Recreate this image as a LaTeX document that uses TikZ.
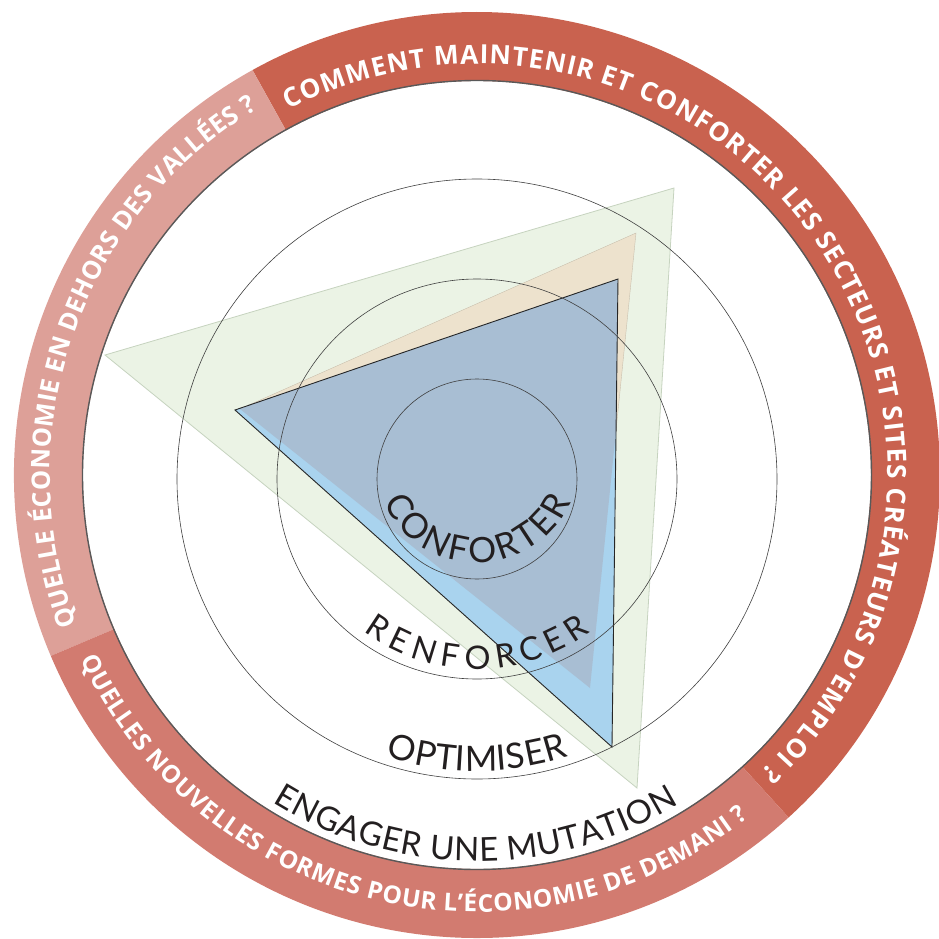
\documentclass[tikz,border=0pt]{standalone}
\usepackage{fontspec}
\newfontfamily\ringfont{Open Sans}
\newfontfamily\latofont{Lato}
\usetikzlibrary{decorations.text}
\definecolor{ringdark}{HTML}{C9624F}
\definecolor{ringlight}{HTML}{DDA098}
\definecolor{ringmid}{HTML}{D27B70}
\definecolor{trigreen}{HTML}{EBF3E5}
\definecolor{trigreenedge}{HTML}{C6D3BF}
\definecolor{tribeige}{HTML}{EDE2CD}
\definecolor{triblue}{HTML}{A9D3EE}
\definecolor{trigreyblue}{HTML}{A8BED3}
\definecolor{inktext}{HTML}{231F20}
\tikzset{
  guide/.style={draw=black!75, line width=0.6pt},
  ringtext/.style={decorate, decoration={text along path, text align=fit to path, text color=white, text={#1}}},
  innertext/.style={decorate, decoration={text along path, text align=fit to path, text color=inktext, text={#1}}}
}
\begin{document}
\begin{tikzpicture}[x=1pt,y=1pt]
\useasboundingbox (-477,-461) rectangle (462,477);
% ring segments
\begin{scope}[shift={(0,2)}]
\fill[ringdark] (-47.7:463) arc[start angle=-47.7, end angle=119, radius=463] -- (119:394) arc[start angle=119, end angle=-47.7, radius=394] -- cycle;
\fill[ringlight] (119:463) arc[start angle=119, end angle=203, radius=463] -- (203:394) arc[start angle=203, end angle=119, radius=394] -- cycle;
\fill[ringmid] (203:463) arc[start angle=203, end angle=312.3, radius=463] -- (312.3:394) arc[start angle=312.3, end angle=203, radius=394] -- cycle;
\draw[black!65, line width=1.4pt] (0,0) circle[radius=394.5];
\end{scope}
% triangles
\filldraw[fill=trigreen, draw=trigreenedge, line width=0.8pt] (-372,122) -- (197,289) -- (160,-311) -- cycle;
\filldraw[fill=tribeige, draw=tribeige!85!black, line width=0.4pt] (-237,68) -- (159,244) -- (113,-211) -- cycle;
\fill[triblue] (-242,67) -- (141,198) -- (135,-270) -- cycle;
\begin{scope}
\clip (-242,67) -- (141,198) -- (135,-270) -- cycle;
\fill[trigreyblue] (-237,68) -- (159,244) -- (113,-211) -- cycle;
\end{scope}
\draw[black!85, line width=0.9pt, line join=miter] (-242,67) -- (141,198) -- (135,-270) -- cycle;
% guide circles
\draw[guide] (0,-2) circle[radius=100];
\draw[guide] (0,-2) circle[radius=200];
\draw[guide] (0,-2) circle[radius=300];
% ring texts
\path[ringtext={|\ringfont\bfseries\fontsize{26.3}{26.3}\selectfont|COMMENT MAINTENIR ET CONFORTER LES SECTEURS ET SITES CRÉATEURS D’EMPLOI ?}]
  (0,2) ++(117.3:411) arc[start angle=117.3, end angle=-46.3, radius=411];
\path[ringtext={|\ringfont\bfseries\fontsize{25.5}{25.5}\selectfont|QUELLE ÉCONOMIE EN DEHORS DES VALLÉES ?}]
  (0,2) ++(200.5:427) arc[start angle=200.5, end angle=121, radius=427];
\path[ringtext={|\ringfont\bfseries\fontsize{24.5}{24.5}\selectfont|QUELLES NOUVELLES FORMES POUR L’ÉCONOMIE DE DEMANI ?}]
  (0,2) ++(205:437) arc[start angle=205, end angle=308.5, radius=437];
% inner texts
\path[innertext={|\latofont\fontsize{35}{35}\selectfont|CONFORTER}]
  (0,16) ++(203.7:102) arc[start angle=203.7, end angle=336.3, radius=102];
\path[innertext={|\latofont\fontsize{32.5}{32.5}\selectfont|RENFORCER}]
  (0,-2) ++(233.5:190) arc[start angle=233.5, end angle=306.5, radius=190];
\path[innertext={|\latofont\fontsize{35}{35}\selectfont|OPTIMISER}]
  (0,-2) ++(251.8:292) arc[start angle=251.8, end angle=288.2, radius=292];
\path[innertext={|\latofont\fontsize{33}{33}\selectfont|ENGAGER UNE MUTATION}]
  (0,2) ++(238:386) arc[start angle=238, end angle=301.5, radius=386];
\end{tikzpicture}
\end{document}
